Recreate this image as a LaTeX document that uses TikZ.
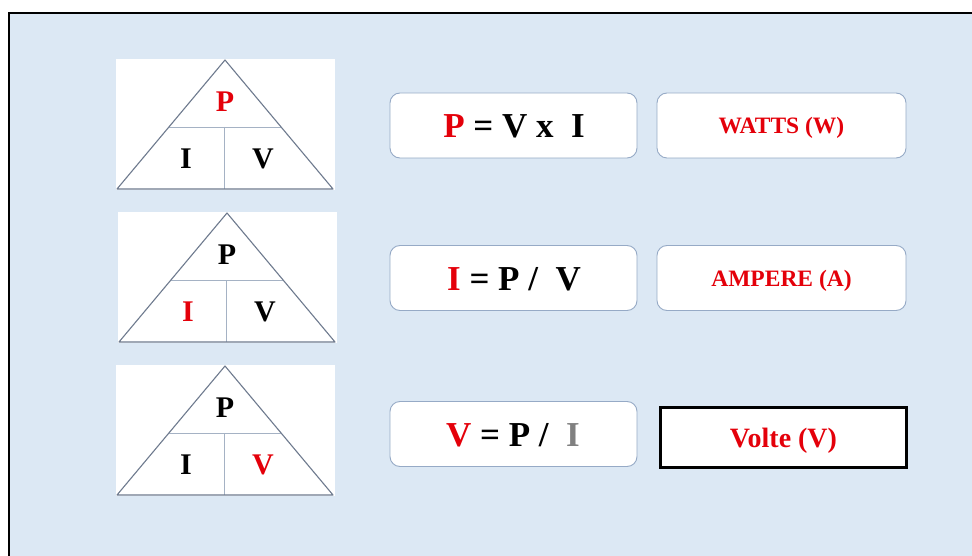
\documentclass[tikz,border=0pt]{standalone}
\usepackage{fontspec}
\setmainfont{Liberation Serif}
\definecolor{panelbg}{RGB}{220,232,244}
\definecolor{boxedge}{RGB}{150,170,198}
\definecolor{triedge}{RGB}{110,122,142}
\definecolor{celledge}{RGB}{165,178,196}
\definecolor{hot}{RGB}{228,0,10}
\definecolor{dimgrey}{RGB}{128,128,128}
\tikzset{
  formbox/.style={draw=boxedge, line width=0.9pt, fill=white, rounded corners=10pt,
                  minimum width=247pt, minimum height=65pt, inner sep=0pt},
  unitbox/.style={draw=boxedge, line width=0.9pt, fill=white, rounded corners=10pt,
                  minimum width=249pt, minimum height=65pt, inner sep=0pt},
  sharpbox/.style={draw=black, line width=2.2pt, fill=white,
                  minimum width=246pt, minimum height=60pt, inner sep=0pt},
  formtext/.style={font=\bfseries\fontsize{35}{37}\selectfont, inner sep=0pt, anchor=base},
  unittext/.style={font=\bfseries\fontsize{23.5}{26}\selectfont, text=hot, inner sep=0pt, anchor=base},
  trilabel/.style={font=\bfseries\fontsize{30}{32}\selectfont, inner sep=0pt},
  triline/.style={draw=triedge, line width=1.1pt, line join=round},
  cellline/.style={draw=celledge, line width=0.8pt}
}
\begin{document}
\begin{tikzpicture}[x=1pt,y=-1pt]
\useasboundingbox (0,0) rectangle (972,556);
% page and framed panel
\fill[white] (0,0) rectangle (972,556);
\fill[panelbg] (9,13) rectangle (972,556);
\draw[black, line width=2.2pt] (9,560) |- (980,13);

% power triangles: position of white card, then colours of P, I, V
\foreach \n/\px/\py/\cp/\ci/\cv in {1/116/59/hot/black/black,
                                      2/118/212/black/hot/black,
                                      3/116/365/black/black/hot}{
  \begin{scope}[shift={(\px,\py)}]
    \fill[white] (0,0) rectangle (219,131);
    \draw[cellline] (53,68) -- (165,68);
    \draw[cellline] (108,68) -- (108,130);
    \draw[triline] (109,1) -- (1,130) -- (217,130) -- cycle;
    \node[trilabel, text=\cp] (tp\n) at (109,43) {P};
    \node[trilabel, text=\ci] (ti\n) at (70,100) {I};
    \node[trilabel, text=\cv] (tv\n) at (147,100) {V};
  \end{scope}
}

% formula cards
\node[formbox] (f1) at (513.5,125.5) {};
\node[formbox] (f2) at (513.5,278) {};
\node[formbox] (f3) at (513.5,434) {};
\node[formtext] (e1) at (514,138) {\textcolor{hot}{P} = V x\ \ I};
\node[formtext] (e2) at (514,290) {\textcolor{hot}{I} = P /\ \ V};
\node[formtext] (e3) at (513,446) {\textcolor{hot}{V} = P /\ \ \textcolor{dimgrey}{I}};

% unit cards
\node[unitbox] (u1) at (781.5,125.5) {};
\node[unitbox] (u2) at (781.5,278) {};
\node[sharpbox] (u3) at (783.5,437.5) {};
\node[unittext] (w1) at (781.5,134) {WATTS (W)};
\node[unittext] (w2) at (781.5,287) {AMPERE (A)};
\node[unittext, font=\bfseries\fontsize{28}{30}\selectfont] (w3) at (783.5,447) {Volte (V)};
\end{tikzpicture}
\end{document}
